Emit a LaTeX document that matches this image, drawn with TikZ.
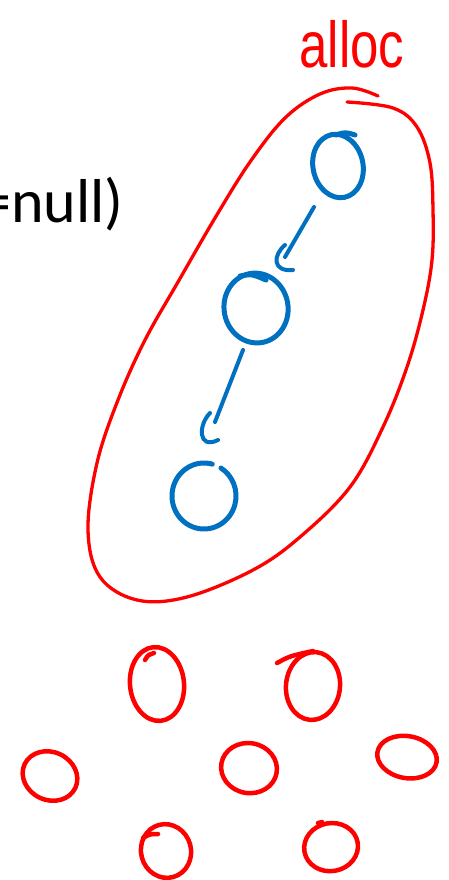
\documentclass[tikz,border=0pt]{standalone}
\usepackage{fontspec}
\newfontfamily\calibri{Carlito}
\newfontfamily\handfont{Liberation Sans}
\usetikzlibrary{calc}
\definecolor{inkred}{RGB}{255,0,0}
\definecolor{inkblue}{RGB}{0,112,192}
\begin{document}
\begin{tikzpicture}[x=1pt,y=-1pt,line cap=round,line join=round,
  redpen/.style={draw=inkred,line width=4.5pt},
  redthin/.style={draw=inkred,line width=3.3pt},
  bluepen/.style={draw=inkblue,line width=5pt},
  blueline/.style={draw=inkblue,line width=4pt}]
\useasboundingbox (0,0) rectangle (448,880);

% condition text (cut at left edge)
\node[anchor=base east,inner sep=0pt,font=\calibri\fontsize{62}{62}\selectfont] (cond) at (124,222) {=null)};

% label
\node[anchor=base,inner sep=0pt,text=inkred,xscale=0.98,yscale=1.25,font=\handfont\fontsize{52}{52}\selectfont] (alloc) at (352,68) {alloc};

% big red loop
\draw[redthin] plot[smooth,tension=0.6] coordinates {(347,102) (393,108) (417,127) (430,163) (433,210) (432,260) (423,310) (407,367) (383,427) (350,487) (300,537) (253,570) (187,597) (137,600) (100,577) (88,530) (97,463) (118,400) (145,340) (178,282) (215,218) (250,162) (285,118) (320,94) (352,88) (378,96)};

% blue list nodes
\coordinate (b1) at (338,166);
\coordinate (b2) at (256,308);
\coordinate (b3) at (204,496);
\draw[bluepen,rotate around={12:(b1)}] (b1) ellipse (25 and 32);
\draw[bluepen] (336,135) .. controls (345,132) .. (355,135);
\draw[bluepen,rotate around={10:(b2)}] (b2) ellipse (32 and 35);
\draw[bluepen] (240,276) .. controls (252,274) .. (266,280);
\draw[bluepen] (b3) ++(-75:32 and 33) arc[start angle=-75,end angle=-418,x radius=32,y radius=33];

% blue arrows
\coordinate (a1s) at (314,207);
\coordinate (a1e) at (285,257);
\draw[blueline] (a1s) -- (a1e);
\draw[blueline] ($(a1e)+(0,-12)$) .. controls ($(a1e)+(-12,-2)$) and ($(a1e)+(-13,15)$) .. ($(a1e)+(8,13)$);
\coordinate (a2s) at (243,350);
\coordinate (a2e) at (215,422);
\draw[blueline] (a2s) -- (a2e);
\draw[blueline] ($(a2e)+(-5,-9)$) .. controls ($(a2e)+(-17,3)$) and ($(a2e)+(-17,28)$) .. ($(a2e)+(3,18)$);

% free red objects
\coordinate (r1) at (157,684);
\coordinate (r2) at (313,686);
\coordinate (r3) at (50,776);
\coordinate (r4) at (249,768);
\coordinate (r5) at (407,757);
\coordinate (r6) at (166,851);
\coordinate (r7) at (331,847);
\draw[redpen,rotate around={6:(r1)}] (r1) ellipse (27 and 37);
\draw[redpen] (145,660) .. controls (148,655) .. (154,653);
\draw[redpen,rotate around={-6:(r2)}] (r2) ellipse (27 and 34);
\draw[redpen] (277,663) .. controls (290,656) .. (313,651);
\draw[redpen,rotate around={-25:(r3)}] (r3) ellipse (28 and 24);
\draw[redpen,rotate around={-10:(r4)}] (r4) ellipse (28 and 25);
\draw[redpen,rotate around={-10:(r5)}] (r5) ellipse (30 and 21);
\draw[redpen,rotate around={15:(r6)}] (r6) ellipse (25 and 27);
\draw[redpen] (143,838) .. controls (150,834) .. (158,834);
\draw[redpen,rotate around={10:(r7)}] (r7) ellipse (27 and 24);
\draw[redpen] (318,823) -- (322,822);
\end{tikzpicture}
\end{document}
